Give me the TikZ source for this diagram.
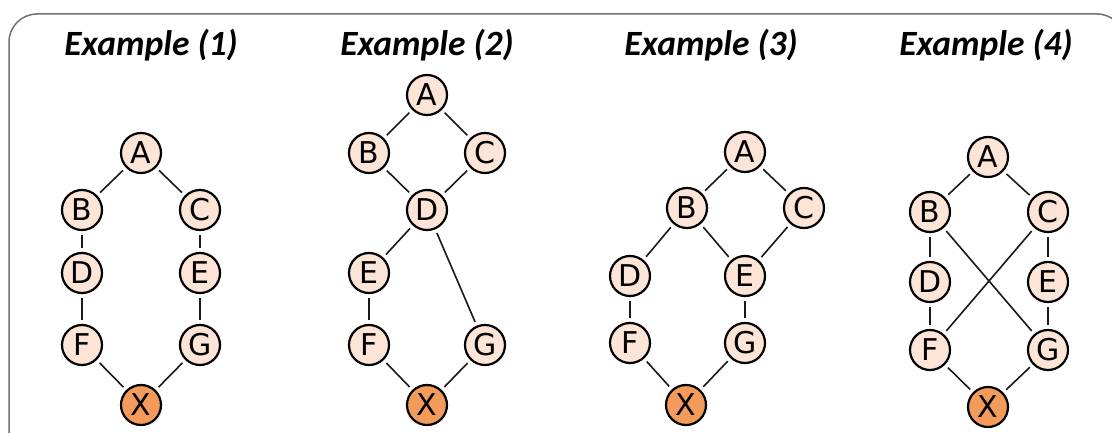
\documentclass[tikz,border=0pt]{standalone}
\usepackage{fontspec}
\setmainfont{DejaVu Sans}
\newfontfamily\titlefont{Carlito}
\definecolor{framegray}{RGB}{112,112,112}
\definecolor{nodefill}{RGB}{252,228,214}
\definecolor{sinkfill}{RGB}{242,155,90}
\newcommand\colorFrame{framegray}
\newcommand\colorLink{black!90}
\newcommand\titleY{45}
\tikzset{
	vertex/.style={circle, draw=black, line width=2.2pt, fill=nodefill,
		minimum size=40pt, inner sep=0pt, font=\fontsize{30}{30}\selectfont},
	sink/.style={vertex, fill=sinkfill},
	link/.style={color=\colorLink, line width=1.6pt, shorten <=4pt, shorten >=4pt},
	heading/.style={font=\titlefont\bfseries\itshape\fontsize{35.5}{36}\selectfont}
}
% #1 = prefix, #2 = letter/x/y list, #3 = edge list
\newcommand\drawGraph[3]{
	\foreach \l/\px/\py in {#2}{
		\node[vertex] (#1\l) at (\px,\py) {\l};
	}
	\foreach \u/\v in {#3}{
		\draw[link] (#1\u) -- (#1\v);
	}
}

\begin{document}
\begin{tikzpicture}[x=1pt, y=-1pt]
		\useasboundingbox (0,0) rectangle (1112,433);
		\clip (0,0) rectangle (1112,433);
		\draw[color=\colorFrame, line width=1.5pt, rounded corners=28pt] (9,14) rectangle (1125,460);

		\node[heading] (title1) at (151,\titleY) {Example (1)};
		\node[heading] (title2) at (427,\titleY) {Example (2)};
		\node[heading] (title3) at (711,\titleY) {Example (3)};
		\node[heading] (title4) at (986,\titleY) {Example (4)};

		% example 1
		\drawGraph{a}{A/141/153, B/82/210, C/200/210, D/82/273, E/200/273, F/82/345, G/200/345}
			{A/B, A/C, B/D, C/E, D/F, E/G}
		\node[sink] (aX) at (141,405) {X};
		\foreach \u in {F,G} \draw[link] (a\u) -- (aX);

		% example 2
		\drawGraph{b}{A/427/95, B/369/153, C/485/153, D/427/210, E/369/273, F/369/345, G/485/345}
			{A/B, A/C, B/D, C/D, D/E, D/G, E/F}
		\node[sink] (bX) at (427,405) {X};
		\foreach \u in {F,G} \draw[link] (b\u) -- (bX);

		% example 3
		\drawGraph{c}{A/745/152, B/687/208, C/804/208, D/630/276, E/745/276, F/630/343, G/745/343}
			{A/B, A/C, B/D, B/E, C/E, D/F, E/G}
		\node[sink] (cX) at (686,405) {X};
		\foreach \u in {F,G} \draw[link] (c\u) -- (cX);

		% example 4
		\drawGraph{d}{A/988/157, B/930/212, C/1048/212, D/930/282, E/1048/282, F/930/350, G/1048/350}
			{A/B, A/C, B/D, B/G, C/E, C/F, D/F, E/G}
		\node[sink] (dX) at (988,407) {X};
		\foreach \u in {F,G} \draw[link] (d\u) -- (dX);
	\end{tikzpicture}
\end{document}
